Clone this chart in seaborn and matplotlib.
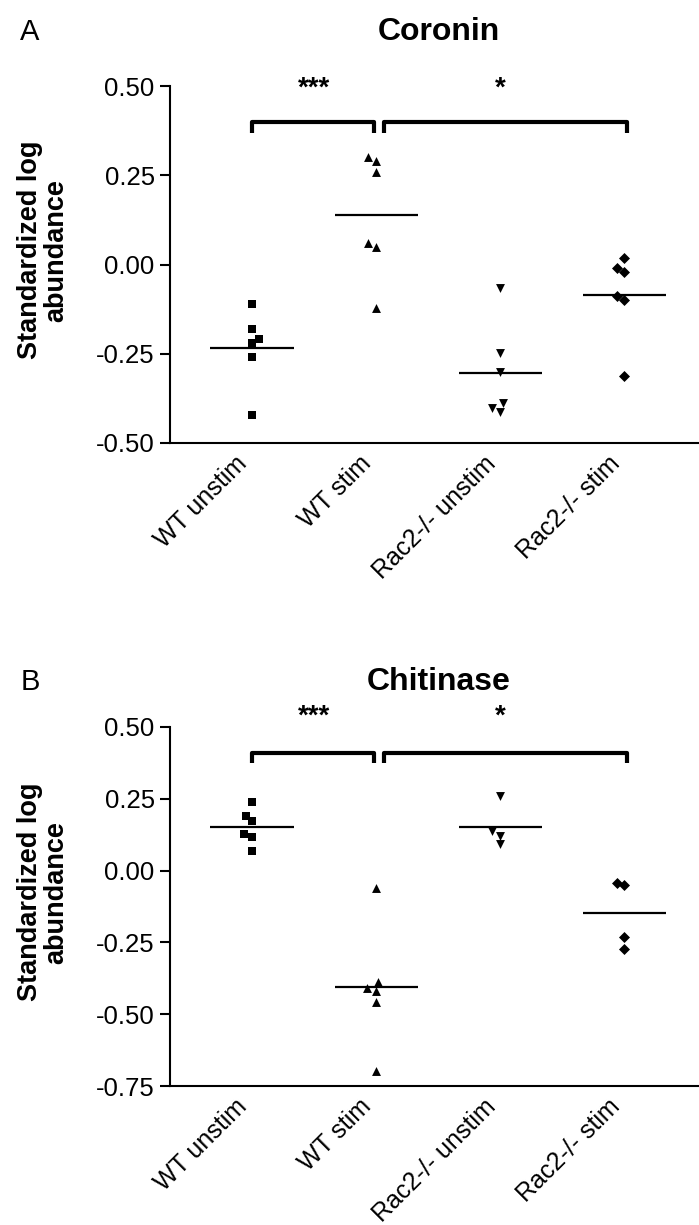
import numpy as np
import pandas as pd
import matplotlib
matplotlib.use("Agg")
import matplotlib.pyplot as plt
import seaborn as sns

# ---------------- data ----------------
categories = ["WT unstim", "WT stim", "Rac2-/- unstim", "Rac2-/- stim"]
markers = ["s", "^", "v", "D"]

coronin_wt_unstim = [-0.110, -0.180, -0.210, -0.221, -0.259, -0.421]
coronin_wt_stim = [0.301, 0.289, 0.258, 0.060, 0.049, -0.123]
coronin_rac_unstim = [-0.067, -0.248, -0.300, -0.388, -0.412, -0.401]
coronin_rac_stim = [0.019, -0.010, -0.020, -0.088, -0.099, -0.311]

chitinase_wt_unstim = [0.239, 0.189, 0.172, 0.127, 0.118, 0.068]
chitinase_wt_stim = [-0.062, -0.389, -0.409, -0.419, -0.457, -0.697]
chitinase_rac_unstim = [0.259, 0.138, 0.122, 0.091]
chitinase_rac_stim = [-0.051, -0.042, -0.231, -0.272]

coronin_ticks = [-0.50, -0.25, 0.00, 0.25, 0.50]
chitinase_ticks = [-0.75, -0.50, -0.25, 0.00, 0.25, 0.50]

# significance brackets: (from category, to category, label)
brackets = [(0, 1, "***"), (1, 3, "*")]

panels = [
    dict(letter="A", title="Coronin",
         groups=[coronin_wt_unstim, coronin_wt_stim, coronin_rac_unstim, coronin_rac_stim],
         ticks=coronin_ticks, bracket_y=0.399, tip=0.030, star_y=0.455),
    dict(letter="B", title="Chitinase",
         groups=[chitinase_wt_unstim, chitinase_wt_stim, chitinase_rac_unstim, chitinase_rac_stim],
         ticks=chitinase_ticks, bracket_y=0.410, tip=0.037, star_y=0.490),
]

# ---------------- style ----------------
sns.set_style("ticks")
plt.rcParams["font.family"] = ["Liberation Sans", "DejaVu Sans"]
plt.rcParams["axes.linewidth"] = 1.5
plt.rcParams["text.color"] = "black"
plt.rcParams["axes.edgecolor"] = "black"
plt.rcParams["axes.labelcolor"] = "black"
plt.rcParams["xtick.color"] = "black"
plt.rcParams["ytick.color"] = "black"

W, H = 699, 1225
fig = plt.figure(figsize=(W / 100, H / 100), dpi=100)

axes_px = [(86, 443), (727, 1086)]  # top, bottom in pixels
title_y_px = [32, 682]
left_px = 170

for p, (top, bot), ty in zip(panels, axes_px, title_y_px):
    ax = fig.add_axes([left_px / W, 1 - bot / H, 1 - left_px / W, (bot - top) / H])
    for i, (vals, m) in enumerate(zip(p["groups"], markers)):
        df = pd.DataFrame({"group": [categories[i]] * len(vals), "value": vals})
        sns.swarmplot(data=df, x="group", y="value", order=categories,
                      marker=m, color="black", size=6.4 if m in "^v" else 5.6,
                      linewidth=0, ax=ax)
        mean = float(np.mean(vals))
        ax.hlines(mean, i - 0.335, i + 0.335, color="black", linewidth=1.6)

    ax.set_xlim(-0.66, 3.6)
    ax.set_ylim(p["ticks"][0], p["ticks"][-1])
    ax.set_yticks(p["ticks"])
    ax.set_yticklabels([f"{t:.2f}" for t in p["ticks"]], fontsize=18.5)
    ax.set_xticks(range(len(categories)))
    ax.set_xticklabels(categories, rotation=45, ha="right", fontsize=18)
    ax.tick_params(axis="x", length=0, pad=6)
    ax.tick_params(axis="y", length=7, width=1.5, pad=4, direction="out")
    ax.set_xlabel("")
    ax.set_ylabel("Standardized log\nabundance", fontsize=19.5, fontweight="bold",
                  linespacing=1.0)
    ax.yaxis.set_label_coords(-0.19, 0.54)
    sns.despine(ax=ax)

    # significance brackets
    for a, b, lab in brackets:
        x0 = a + (0.06 if a > 0 else 0.0)
        x1 = b - (0.02 if b == 1 else -0.02)
        y = p["bracket_y"]
        tip = p["tip"]
        ax.plot([x0, x0, x1, x1], [y - tip, y, y, y - tip], color="black",
                linewidth=3, solid_capstyle="butt", clip_on=False)
        ax.text((a + b) / 2, p["star_y"], lab, ha="center", va="bottom",
                fontsize=20, fontweight="bold", clip_on=False)

    fig.text(439 / W, 1 - ty / H, p["title"], ha="center", va="center",
             fontsize=23, fontweight="bold")
    fig.text(30 / W, 1 - ty / H, p["letter"], ha="center", va="center",
             fontsize=21)

fig.savefig("out.png", dpi=100)
